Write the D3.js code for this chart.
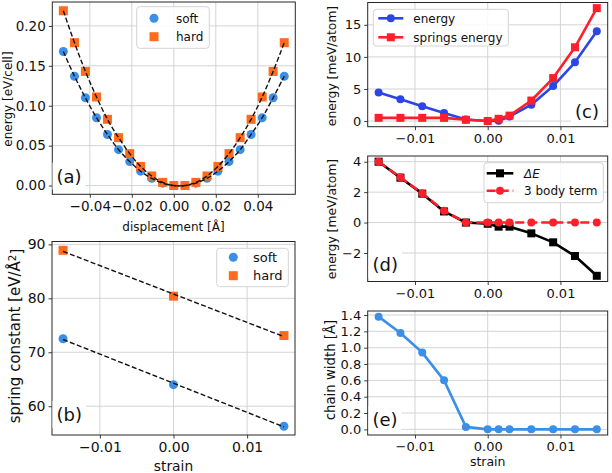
<!DOCTYPE html>
<html>
<head>
<meta charset="utf-8">
<script src="https://cdn.jsdelivr.net/npm/d3@7"></script>
<style>
  html, body { margin: 0; padding: 0; background: #fff; }
  svg { display: block; font-family: "DejaVu Sans", sans-serif; }
</style>
</head>
<body>
<svg id="chart" width="612" height="473"></svg>
<script>
// ---------------- data ----------------
// panel (a): energy vs displacement
const displacement = [-0.0526, -0.0473, -0.0421, -0.0368, -0.0316, -0.0263, -0.0210, -0.0158, -0.0105, -0.0053, 0.0,
                       0.0053, 0.0105, 0.0158, 0.0210, 0.0263, 0.0316, 0.0368, 0.0421, 0.0473, 0.0526];
const softEnergy = [0.168, 0.137, 0.110, 0.085, 0.064, 0.045, 0.030, 0.018, 0.009, 0.003, 0.000,
                    0.000, 0.003, 0.009, 0.018, 0.030, 0.045, 0.064, 0.085, 0.110, 0.137];
const hardEnergy = [0.219, 0.179, 0.143, 0.111, 0.083, 0.060, 0.040, 0.024, 0.012, 0.004, 0.000,
                    0.000, 0.004, 0.012, 0.024, 0.040, 0.060, 0.083, 0.111, 0.143, 0.179];
const aXTicks = [-0.04, -0.02, 0.00, 0.02, 0.04];
const aYTicks = [0.00, 0.05, 0.10, 0.15, 0.20];

// panel (b): spring constant vs strain
const strainB = [-0.015, 0.0, 0.015];
const softK = [72.5, 64.0, 56.3];
const hardK = [88.9, 80.4, 73.1];
const bXTicks = [-0.01, 0.00, 0.01];
const bYTicks = [60, 70, 80, 90];

// panels (c), (d), (e): vs strain
const strain = [-0.015, -0.012, -0.009, -0.006, -0.003, 0.0, 0.0015, 0.003, 0.006, 0.009, 0.012, 0.015];
const energy = [4.45, 3.4, 2.3, 1.25, 0.25, 0.0, 0.05, 0.7, 2.55, 5.45, 9.15, 14.0];
const springsEnergy = [0.5, 0.5, 0.5, 0.5, 0.2, 0.0, 0.35, 0.85, 3.2, 6.7, 11.5, 17.6];
const deltaE = [4.0, 2.95, 1.9, 0.73, 0.0, -0.08, -0.27, -0.27, -0.71, -1.3, -2.2, -3.5];
const threeBody = [4.0, 2.97, 1.92, 0.77, 0.0, 0.0, 0.0, 0.0, 0.0, 0.0, 0.0, 0.0];
const chainWidth = [1.38, 1.18, 0.94, 0.60, 0.03, 0.0, 0.0, 0.0, 0.0, 0.0, 0.0, 0.0];
const strainTicks = [-0.01, 0.00, 0.01];
const cYTicks = [0, 5, 10, 15];
const dYTicks = [-2, 0, 2, 4];
const eYTicks = [0.0, 0.2, 0.4, 0.6, 0.8, 1.0, 1.2, 1.4];

// ---------------- styles ----------------
const C_SOFT = "#3c8fe6";
const C_HARD = "#ff6a1c";
const C_EBLUE = "#2c46e6";
const C_RED = "#ff1f2a";
const C_BLACK = "#000000";
const C_WIDTH = "#3c8fe6";
const AX = "#262626";
const GRID = "#cfcfcf";
const PANEL_FS = 18;

const svg = d3.select("#chart");
svg.append("rect").attr("width", 612).attr("height", 473).attr("fill", "#fff");

function padExtent(arrs, frac = 0.05) {
  const all = arrs.flat();
  const lo = d3.min(all), hi = d3.max(all);
  const p = (hi - lo) * frac;
  return [lo - p, hi + p];
}

function panel(cfg) {
  const g = svg.append("g");
  const x = d3.scaleLinear().domain(cfg.xdom).range([cfg.x0, cfg.x1]);
  const y = d3.scaleLinear().domain(cfg.ydom).range([cfg.y1, cfg.y0]);
  const grid = g.append("g");
  grid.selectAll("line.gx").data(cfg.xticks).join("line")
    .attr("x1", d => x(d)).attr("x2", d => x(d))
    .attr("y1", cfg.y0).attr("y2", cfg.y1)
    .attr("stroke", GRID).attr("stroke-width", 0.9);
  grid.selectAll("line.gy").data(cfg.yticks).join("line")
    .attr("y1", d => y(d)).attr("y2", d => y(d))
    .attr("x1", cfg.x0).attr("x2", cfg.x1)
    .attr("stroke", GRID).attr("stroke-width", 0.9);
  const data = g.append("g");
  const over = g.append("g");
  const xa = over.append("g").attr("transform", `translate(0,${cfg.y1})`)
    .call(d3.axisBottom(x).tickValues(cfg.xticks).tickFormat(cfg.xfmt).tickSize(3.5).tickPadding(3.5));
  const ya = over.append("g").attr("transform", `translate(${cfg.x0},0)`)
    .call(d3.axisLeft(y).tickValues(cfg.yticks).tickFormat(cfg.yfmt).tickSize(3.5).tickPadding(3));
  [xa, ya].forEach(a => {
    a.select(".domain").remove();
    a.selectAll("line").attr("stroke", AX).attr("stroke-width", 0.9);
    a.selectAll("text").attr("fill", "#111").style("font-size", cfg.tickFs + "px")
      .style("font-family", "DejaVu Sans, sans-serif");
  });
  over.append("rect").attr("x", cfg.x0).attr("y", cfg.y0)
    .attr("width", cfg.x1 - cfg.x0).attr("height", cfg.y1 - cfg.y0)
    .attr("fill", "none").attr("stroke", AX).attr("stroke-width", 1);
  return { g, data, over, x, y, cfg };
}

function panelLabel(p, txt, tx, ty, anchor) {
  const grp = p.over.append("g");
  const t = grp.append("text").attr("x", tx).attr("y", ty).attr("text-anchor", anchor || "start")
    .style("font-size", PANEL_FS + "px").attr("fill", "#111").text(txt);
  const bb = t.node().getBBox();
  grp.insert("rect", "text").attr("x", bb.x - 4).attr("y", bb.y - 3)
    .attr("width", bb.width + 8).attr("height", bb.height + 6).attr("fill", "#fff");
}

function yLabel(cx, cy, fsz, txt, sup) {
  const t = svg.append("text").attr("transform", `translate(${cx},${cy}) rotate(-90)`)
    .attr("text-anchor", "middle").attr("dy", "0.35em")
    .style("font-size", fsz + "px").attr("fill", "#111");
  if (sup) {
    t.append("tspan").text(txt);
    t.append("tspan").text(sup).style("font-size", (fsz * 0.7) + "px").attr("dy", "-0.45em");
    t.append("tspan").text("]").attr("dy", "0.45em");
  } else t.text(txt);
}
function xLabel(cx, by, fsz, txt) {
  svg.append("text").attr("x", cx).attr("y", by).attr("text-anchor", "middle")
    .style("font-size", fsz + "px").attr("fill", "#111").text(txt);
}

function marker(sel, type, cx, cy, size, color) {
  if (type === "circle") {
    sel.append("circle").attr("cx", cx).attr("cy", cy).attr("r", size / 2).attr("fill", color);
  } else {
    sel.append("rect").attr("x", cx - size / 2).attr("y", cy - size / 2)
      .attr("width", size).attr("height", size).attr("fill", color);
  }
}

function drawMarkers(p, xs, ys, type, size, color) {
  const pts = xs.map((d, i) => [d, ys[i]]);
  if (type === "circle") {
    p.data.append("g").selectAll("circle").data(pts).join("circle")
      .attr("cx", d => p.x(d[0])).attr("cy", d => p.y(d[1])).attr("r", size / 2).attr("fill", color);
  } else {
    p.data.append("g").selectAll("rect").data(pts).join("rect")
      .attr("x", d => p.x(d[0]) - size / 2).attr("y", d => p.y(d[1]) - size / 2)
      .attr("width", size).attr("height", size).attr("fill", color);
  }
}
function drawLine(p, xs, ys, color, width, dash, curve) {
  const pts = xs.map((d, i) => [d, ys[i]]);
  const line = d3.line().x(d => p.x(d[0])).y(d => p.y(d[1])).curve(curve || d3.curveLinear);
  p.data.append("path").attr("d", line(pts)).attr("fill", "none")
    .attr("stroke", color).attr("stroke-width", width)
    .attr("stroke-dasharray", dash || null).attr("stroke-linejoin", "round");
}

function legendBox(p, x, y, w, h) {
  p.over.append("rect").attr("x", x).attr("y", y).attr("width", w).attr("height", h)
    .attr("rx", 3).attr("fill", "#fff").attr("fill-opacity", 0.85)
    .attr("stroke", "#d4d4d4").attr("stroke-width", 1);
}
function legendText(p, x, y, fsz, txt) {
  return p.over.append("text").attr("x", x).attr("y", y).attr("dy", "0.35em")
    .style("font-size", fsz + "px").attr("fill", "#111").text(txt);
}

const f2 = d3.format(".2f");
const f1 = d3.format(".1f");
const fd = d3.format("d");

// ---------------- panel (a) ----------------
const pa = panel({ x0: 52.3, x1: 295.3, y0: 2, y1: 194.3,
  xdom: padExtent([displacement]), ydom: padExtent([softEnergy, hardEnergy]),
  xticks: aXTicks, yticks: aYTicks, xfmt: f2, yfmt: f2, tickFs: 13.5 });
drawMarkers(pa, displacement, softEnergy, "circle", 9, C_SOFT);
drawMarkers(pa, displacement, hardEnergy, "square", 9, C_HARD);
drawLine(pa, displacement, softEnergy, "#111", 1.4, "5,2.4", d3.curveCatmullRom);
drawLine(pa, displacement, hardEnergy, "#111", 1.4, "5,2.4", d3.curveCatmullRom);
panelLabel(pa, "(a)", 56.5, 182.5);
legendBox(pa, 136.7, 6.7, 72.6, 41.6);
marker(pa.over, "circle", 154, 18.3, 9, C_SOFT);
marker(pa.over, "square", 154, 36.7, 9, C_HARD);
legendText(pa, 176, 18.3, 12, "soft");
legendText(pa, 176, 36.7, 12, "hard");
yLabel(7.5, 99, 12, "energy [eV/cell]");
xLabel(173.5, 231, 12, "displacement [Å]");

// ---------------- panel (b) ----------------
const pb = panel({ x0: 52, x1: 295, y0: 241.5, y1: 435,
  xdom: padExtent([strainB]), ydom: padExtent([softK, hardK]),
  xticks: bXTicks, yticks: bYTicks, xfmt: f2, yfmt: fd, tickFs: 14 });
drawMarkers(pb, strainB, softK, "circle", 9, C_SOFT);
drawMarkers(pb, strainB, hardK, "square", 9, C_HARD);
// least-squares straight-line fits through the points
function linFit(xs, ys) {
  const mx = d3.mean(xs), my = d3.mean(ys);
  const s = d3.sum(xs, (d, i) => (d - mx) * (ys[i] - my)) / d3.sum(xs, d => (d - mx) ** 2);
  const ends = [xs[0], xs[xs.length - 1]];
  return [ends, ends.map(v => my + s * (v - mx))];
}
const fs = linFit(strainB, softK), fh = linFit(strainB, hardK);
drawLine(pb, fs[0], fs[1], "#111", 1.4, "5,2.4");
drawLine(pb, fh[0], fh[1], "#111", 1.4, "5,2.4");
panelLabel(pb, "(b)", 56.5, 421);
legendBox(pb, 216.7, 248.3, 71.6, 38.4);
marker(pb.over, "circle", 233.3, 257.3, 9, C_SOFT);
marker(pb.over, "square", 233.3, 275.7, 9, C_HARD);
legendText(pb, 253, 257.3, 13, "soft");
legendText(pb, 253, 275.7, 13, "hard");
yLabel(15, 336, 15, "spring constant [eV/Å", "2");
xLabel(173.5, 470.5, 13.8, "strain");

// ---------------- panel (c) ----------------
const strainDom = padExtent([strain]);
const pc = panel({ x0: 367.7, x1: 607.7, y0: 2.5, y1: 126.7,
  xdom: strainDom, ydom: padExtent([energy, springsEnergy]),
  xticks: strainTicks, yticks: cYTicks, xfmt: f2, yfmt: fd, tickFs: 13 });
drawLine(pc, strain, energy, C_EBLUE, 2.6);
drawMarkers(pc, strain, energy, "circle", 8, C_EBLUE);
drawLine(pc, strain, springsEnergy, C_RED, 2.6);
drawMarkers(pc, strain, springsEnergy, "square", 8, C_RED);
panelLabel(pc, "(c)", 599, 117.5, "end");
legendBox(pc, 373.3, 9.3, 135, 36.7);
pc.over.append("line").attr("x1", 378.3).attr("x2", 403.3).attr("y1", 18.3).attr("y2", 18.3)
  .attr("stroke", C_EBLUE).attr("stroke-width", 2.6);
marker(pc.over, "circle", 390.8, 18.3, 8, C_EBLUE);
pc.over.append("line").attr("x1", 378.3).attr("x2", 403.3).attr("y1", 37.3).attr("y2", 37.3)
  .attr("stroke", C_RED).attr("stroke-width", 2.6);
marker(pc.over, "square", 390.8, 37.3, 8, C_RED);
legendText(pc, 413.3, 18.3, 12, "energy");
legendText(pc, 413.3, 37.3, 12, "springs energy");
yLabel(332, 66, 12.3, "energy [meV/atom]");

// ---------------- panel (d) ----------------
const pd = panel({ x0: 367.7, x1: 607.7, y0: 156, y1: 281.5,
  xdom: strainDom, ydom: padExtent([deltaE, threeBody]),
  xticks: strainTicks, yticks: dYTicks, xfmt: f2, yfmt: fd, tickFs: 13 });
drawLine(pd, strain, deltaE, C_BLACK, 2.6);
drawMarkers(pd, strain, deltaE, "square", 8, C_BLACK);
drawLine(pd, strain, threeBody, C_RED, 2.6, "9,4");
drawMarkers(pd, strain, threeBody, "circle", 8, C_RED);
panelLabel(pd, "(d)", 372.5, 271);
legendBox(pd, 484, 162.7, 119.3, 40);
pd.over.append("line").attr("x1", 486.7).attr("x2", 513.3).attr("y1", 173.3).attr("y2", 173.3)
  .attr("stroke", C_BLACK).attr("stroke-width", 2.6);
marker(pd.over, "square", 500, 173.3, 8, C_BLACK);
pd.over.append("line").attr("x1", 486.7).attr("x2", 513.3).attr("y1", 190.7).attr("y2", 190.7)
  .attr("stroke", C_RED).attr("stroke-width", 2.6).attr("stroke-dasharray", "9,4");
marker(pd.over, "circle", 500, 190.7, 8, C_RED);
const dl = legendText(pd, 524, 173.3, 12, "");
dl.append("tspan").text("Δ").style("font-style", "italic");
dl.append("tspan").text("E").style("font-style", "italic");
legendText(pd, 524, 190.7, 12, "3 body term");
yLabel(332, 219, 12.3, "energy [meV/atom]");

// ---------------- panel (e) ----------------
const pe = panel({ x0: 367.7, x1: 607.7, y0: 311, y1: 435,
  xdom: strainDom, ydom: padExtent([chainWidth]),
  xticks: strainTicks, yticks: eYTicks, xfmt: f2, yfmt: f1, tickFs: 13 });
drawLine(pe, strain, chainWidth, C_WIDTH, 2.6);
drawMarkers(pe, strain, chainWidth, "circle", 8, C_WIDTH);
panelLabel(pe, "(e)", 372.5, 426);
yLabel(330, 370, 13.3, "chain width [Å]");
xLabel(487.7, 466, 12.5, "strain");
</script>
</body>
</html>
